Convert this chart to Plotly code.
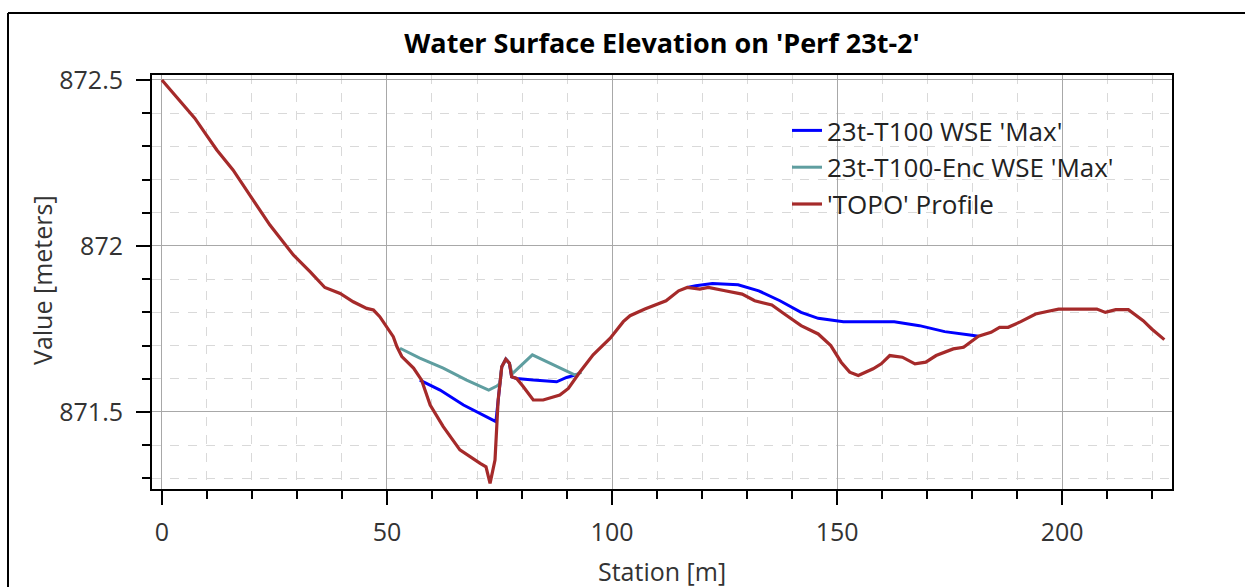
import plotly.graph_objects as go

# Ground profile along the cut line
topo_station = [0, 7.3, 9.9, 12.2, 15.8, 20.3, 24, 29.2, 32.9, 36.2, 39.6, 42.5, 45.5, 47,
                48.4, 51.4, 52.2, 53.3, 55.9, 57.7, 59.6, 62.5, 66.2, 70.7, 72, 72.9, 74,
                74.7, 75.5, 76.4, 77.2, 77.7, 78.8, 80.3, 82.5, 84.7, 88.4, 90.3, 92.9,
                95.8, 99.6, 102.5, 104.0, 107.3, 112.0, 114.8, 116.7, 119.5, 121.4, 125.1,
                128.9, 131.7, 135.5, 138.3, 142.0, 145.8, 148.6, 150.9, 152.8, 154.7, 158.0,
                159.8, 161.7, 164.5, 167.3, 169.7, 172.0, 175.8, 178.1, 181.4, 184.2, 186.1,
                188.0, 190.8, 194.1, 196.4, 199.2, 207.7, 209.6, 211.9, 214.7, 218.0, 219.9,
                222.7]
topo_elev = [872.50, 872.385, 872.334, 872.289, 872.229, 872.139, 872.063, 871.973, 871.923,
             871.875, 871.857, 871.832, 871.812, 871.807, 871.787, 871.727, 871.697, 871.667,
             871.632, 871.596, 871.521, 871.456, 871.386, 871.345, 871.335, 871.285, 871.355,
             871.536, 871.636, 871.659, 871.647, 871.606, 871.601, 871.576, 871.536, 871.536,
             871.551, 871.571, 871.621, 871.672, 871.722, 871.772, 871.79, 871.81, 871.835,
             871.865, 871.875, 871.87, 871.875, 871.865, 871.855, 871.835, 871.822, 871.795,
             871.76, 871.735, 871.70, 871.65, 871.62, 871.61, 871.63, 871.645, 871.67,
             871.665, 871.645, 871.65, 871.67, 871.69, 871.695, 871.728, 871.74, 871.755,
             871.755, 871.772, 871.795, 871.802, 871.81, 871.81, 871.80, 871.808, 871.808,
             871.775, 871.75, 871.718]

# 23t-T100 max water surface (two wet reaches, gap between them)
wse_station = [57.3, 61.8, 67, 74.2, 74.9, 75.5, 76.4, 77.2, 77.7, 78.8, 82.5, 87.7, 89.9,
               92.5, None,
               116.7, 118.6, 122.3, 128.0, 132.6, 137.3, 142.0, 145.8, 151.4, 162.7, 168.3,
               173.9, 179.5, 181.4]
wse_elev = [871.596, 871.566, 871.521, 871.471, 871.56, 871.636, 871.659, 871.647, 871.606,
            871.601, 871.596, 871.591, 871.604, 871.614, None,
            871.875, 871.88, 871.887, 871.883, 871.865, 871.835, 871.80, 871.782, 871.772,
            871.772, 871.76, 871.742, 871.732, 871.728]

# 23t-T100-Enc max water surface
enc_station = [52.9, 57.3, 62.5, 67.7, 72.6, 74.4, 75.1, 75.5, 76.4, 77.2, 77.8, 82.3, 87,
               91.8, 93.2]
enc_elev = [871.692, 871.662, 871.632, 871.596, 871.566, 871.578, 871.586, 871.636, 871.659,
            871.647, 871.615, 871.672, 871.642, 871.611, 871.62]

x_ticks = [0, 50, 100, 150, 200]
y_ticks = [871.5, 872, 872.5]
y_tick_text = ["871.5", "872", "872.5"]

FONT = "Open Sans"
W, H = 1245, 587
ML, MR, MT, MB = 152, 73, 75, 98

fig = go.Figure()
fig.add_trace(go.Scatter(x=wse_station, y=wse_elev, mode="lines",
                         name="23t-T100 WSE 'Max'",
                         line=dict(color="#0000FF", width=3)))
fig.add_trace(go.Scatter(x=enc_station, y=enc_elev, mode="lines",
                         name="23t-T100-Enc WSE 'Max'",
                         line=dict(color="#5F9EA0", width=3)))
fig.add_trace(go.Scatter(x=topo_station, y=topo_elev, mode="lines",
                         name="'TOPO' Profile",
                         line=dict(color="#A52A2A", width=3.2)))

pw = W - ML - MR
ph = H - MT - MB


def px_to_paper_x(px):
    return (px - ML) / pw


def px_to_paper_y(py):
    return (H - MB - py) / ph


axis_common = dict(
    showline=True, linecolor="black", linewidth=2, mirror=True,
    ticks="outside", ticklen=14, tickwidth=2, tickcolor="black",
    showgrid=True, gridcolor="#a8a8a8", gridwidth=1,
    zeroline=False,
    tickfont=dict(family=FONT, size=25, color="#333333"),
)

fig.update_xaxes(
    range=[-2.2, 224.4], tickvals=x_ticks, ticklabelstandoff=6,
    minor=dict(dtick=10, tick0=0, ticks="outside", ticklen=8, tickwidth=2,
               tickcolor="black", showgrid=True, gridcolor="#d9d9d9", griddash="dash"),
    **axis_common,
)
fig.update_yaxes(
    range=[871.268, 872.515], tickvals=y_ticks, ticktext=y_tick_text, ticklabelstandoff=8,
    minor=dict(dtick=0.1, tick0=871.5, ticks="outside", ticklen=8, tickwidth=2,
               tickcolor="black", showgrid=True, gridcolor="#d9d9d9", griddash="dash"),
    **axis_common,
)

axis_title_font = dict(family=FONT, size=25, color="#333333")

fig.update_layout(
    width=W, height=H,
    margin=dict(l=ML, r=MR, t=MT, b=MB),
    paper_bgcolor="white", plot_bgcolor="white",
    title=dict(text="<b>Water Surface Elevation on 'Perf 23t-2'</b>",
               font=dict(family=FONT, size=27, color="black"),
               x=px_to_paper_x(662), xref="paper", xanchor="center",
               y=1 - 44 / H, yref="container", yanchor="middle"),
    legend=dict(x=px_to_paper_x(787), y=px_to_paper_y(107), xanchor="left", yanchor="top",
                bgcolor="rgba(0,0,0,0)", borderwidth=0,
                font=dict(family=FONT, size=26, color="#222222"),
                tracegroupgap=0, itemwidth=30),
    showlegend=True,
    annotations=[
        dict(text="Station [m]", xref="paper", yref="paper",
             x=px_to_paper_x(662), y=px_to_paper_y(571),
             xanchor="center", yanchor="middle", showarrow=False, font=axis_title_font),
        dict(text="Value [meters]", xref="paper", yref="paper", textangle=-90,
             x=px_to_paper_x(42), y=px_to_paper_y(280),
             xanchor="center", yanchor="middle", showarrow=False, font=axis_title_font),
    ],
    shapes=[
        dict(type="line", xref="paper", yref="paper",
             x0=px_to_paper_x(8), x1=px_to_paper_x(W + 5),
             y0=px_to_paper_y(13), y1=px_to_paper_y(13),
             line=dict(color="black", width=2)),
        dict(type="line", xref="paper", yref="paper",
             x0=px_to_paper_x(8), x1=px_to_paper_x(8),
             y0=px_to_paper_y(13), y1=px_to_paper_y(H + 5),
             line=dict(color="black", width=2)),
    ],
)

fig.write_html("out.html")
